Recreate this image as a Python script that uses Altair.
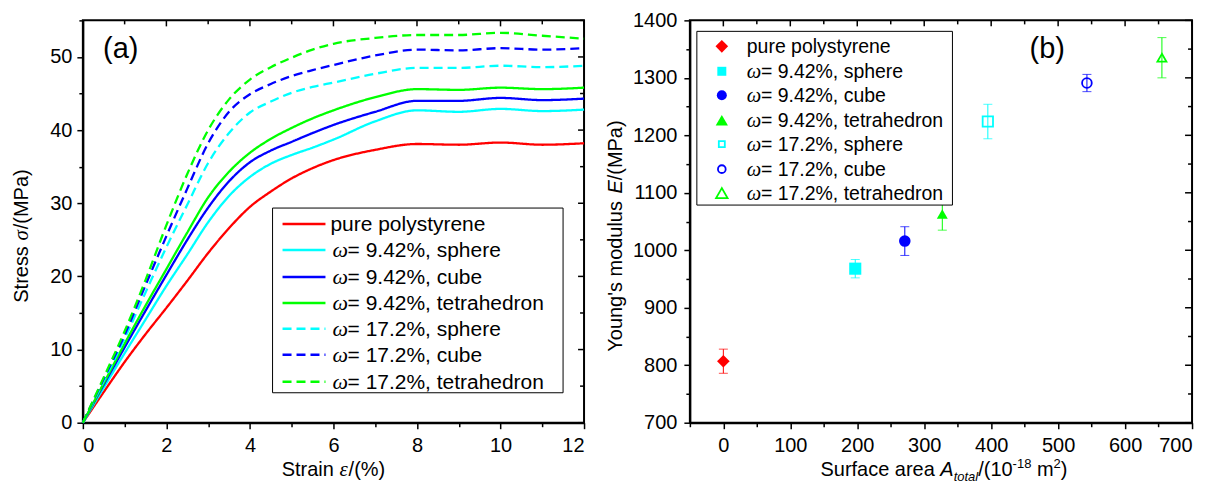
import altair as alt
import pandas as pd

# ---------------- panel (a): stress-strain curves ----------------
strain = [0, 0.5, 1, 1.5, 2, 2.5, 3, 3.5, 4, 4.5, 5, 5.5, 6, 7, 8, 9, 10, 11, 12]
stress_pure = [0, 4.2, 8.3, 12.1, 15.7, 19.4, 23.2, 26.6, 29.5, 31.6, 33.4, 34.8, 35.9, 37.3, 38.1, 38.0, 38.3, 38.0, 38.2]
stress_942_sphere = [0, 4.8, 9.5, 14.1, 18.7, 23.0, 27.4, 31.0, 33.6, 35.4, 36.6, 37.6, 38.7, 41.2, 42.7, 42.5, 42.9, 42.6, 42.8]
stress_942_cube = [0, 5.2, 10.3, 15.3, 20.2, 25.0, 29.4, 33.0, 35.6, 37.2, 38.4, 39.6, 40.7, 42.5, 44.0, 44.0, 44.4, 44.1, 44.3]
stress_942_tetra = [0, 5.4, 10.8, 16.0, 21.0, 26.0, 30.8, 34.3, 36.9, 38.8, 40.3, 41.6, 42.7, 44.5, 45.6, 45.5, 45.8, 45.6, 45.8]
stress_172_sphere = [0, 5.7, 11.5, 17.8, 24.0, 29.8, 35.5, 39.6, 42.4, 43.9, 45.1, 45.9, 46.5, 47.7, 48.5, 48.5, 48.8, 48.6, 48.8]
stress_172_cube = [0, 6.0, 12.0, 18.8, 25.5, 32.0, 38.2, 42.5, 44.9, 46.3, 47.4, 48.2, 48.9, 50.2, 51.0, 50.9, 51.2, 51.0, 51.2]
stress_172_tetra = [0, 6.2, 12.5, 19.5, 27.0, 34.0, 40.0, 44.2, 46.9, 48.6, 49.9, 51.0, 51.8, 52.6, 53.0, 53.0, 53.3, 52.9, 52.5]

series_labels = ["pure polystyrene", "ω= 9.42%, sphere", "ω= 9.42%, cube", "ω= 9.42%, tetrahedron",
                 "ω= 17.2%, sphere", "ω= 17.2%, cube", "ω= 17.2%, tetrahedron"]
legend_prefix = ["", "ω", "ω", "ω", "ω", "ω", "ω"]
legend_rest = ["pure polystyrene", "= 9.42%, sphere", "= 9.42%, cube", "= 9.42%, tetrahedron",
               "= 17.2%, sphere", "= 17.2%, cube", "= 17.2%, tetrahedron"]

# ---------------- panel (b): Young's modulus ----------------
surface_area = [0, 197, 271, 327, 395, 543, 655]
modulus = [807, 968, 1016, 1063, 1224, 1291, 1335]
modulus_err = [21, 16, 25, 28, 30, 15, 35]
marker_filled = [True, True, True, True, False, False, False]

# tick values
xa_ticks = list(range(0, 13))
ya_ticks = list(range(0, 56, 5))
xb_ticks = list(range(-50, 701, 50))
yb_ticks = list(range(700, 1401, 50))

# ---------------- styles ----------------
colors = ["#FF0000", "#00FFFF", "#0000FF", "#00FF00", "#00FFFF", "#0000FF", "#00FF00"]
dashes = [[1, 0], [1, 0], [1, 0], [1, 0], [9, 5], [9, 5], [9, 5]]
shapes = ["diamond", "square", "circle", "triangle-up", "square", "circle", "triangle-up"]
marker_sizes = [160, 81, 100, 150, 36, 60, 132]
SANS = "Liberation Sans"
SERIF = "Liberation Serif"
WA, HA = 502, 403
WB, HB = 503, 403

W = {' ': 278, 'S': 667, 't': 278, 'r': 333, 'a': 556, 'i': 222, 'n': 556, '/': 278, '(': 333, ')': 333,
     '%': 889, 'M': 833, 'P': 667, 'e': 556, 's': 500, 'Y': 667, 'o': 556, 'u': 556, 'g': 556, "'": 191,
     'm': 833, 'd': 556, 'l': 222, 'f': 278, 'c': 500, 'A': 667, 'E': 667, '-': 333, '.': 278, ',': 278,
     '=': 584, 'p': 556, 'y': 500, 'h': 556, 'b': 556, 'ε': 440, 'σ': 540, 'ω': 667}


def tw(s, size):
    return sum(W.get(c, 556) for c in s) * size / 1000.0


ONE = alt.Data(values=[{}])


def txt(text, x, y, size, font=SANS, style="normal", angle=0, align="left"):
    kw = dict(text=text, font=font, fontSize=size, fontStyle=style, align=align,
              baseline="alphabetic", color="black")
    if angle:
        kw["angle"] = angle
    return alt.Chart(ONE).mark_text(**kw).encode(x=alt.value(x), y=alt.value(y))


def anchor(x, y):
    # invisible 1px rule that pins the page bounds
    return alt.Chart(ONE).mark_rule(strokeOpacity=0, strokeWidth=0.1).encode(
        x=alt.value(x), y=alt.value(y), y2=alt.value(y + 0.5))


def hpieces(pieces, cx, yb):
    total = sum(tw(p[0], p[2]) for p in pieces)
    x = cx - total / 2
    out = []
    for text, font, size, style, dy in pieces:
        lead = len(text) - len(text.lstrip(" "))
        out.append(txt(text.strip(" "), x + tw(" " * lead, size), yb + dy, size, font, style))
        x += tw(text, size)
    return out


def vpieces(pieces, xb, cy):
    total = sum(tw(p[0], p[2]) for p in pieces)
    y = cy + total / 2
    out = []
    for text, font, size, style in pieces:
        out.append(txt(text.strip(" "), xb, y, size, font, style, angle=270))
        y -= tw(text, size)
    return out


def major_minor(step):
    return {"condition": {"test": f"datum.value % {step} === 0", "value": 6}, "value": 4}


# ---------------- panel (a) ----------------
rows = []
for lab, vals in zip(series_labels, [stress_pure, stress_942_sphere, stress_942_cube, stress_942_tetra,
                                     stress_172_sphere, stress_172_cube, stress_172_tetra]):
    for s, v in zip(strain, vals):
        rows.append({"series": lab, "strain": s, "stress": v})
df_a = pd.DataFrame(rows)

xa_scale = alt.Scale(domain=[0, 12], nice=False, zero=False)
ya_scale = alt.Scale(domain=[0, 55], nice=False, zero=False)
xa_axis = alt.Axis(values=xa_ticks, labelExpr="datum.value % 2 === 0 ? datum.label : ''",
                   tickSize=major_minor(2), title=None, labelPadding=7, grid=False)
ya_axis = alt.Axis(values=ya_ticks, labelExpr="datum.value % 10 === 0 ? datum.label : ''",
                   tickSize=major_minor(10), title=None, labelPadding=5, grid=False)

curves = alt.Chart(df_a).mark_line(strokeWidth=2.3, interpolate="monotone").encode(
    x=alt.X("strain:Q", scale=xa_scale, axis=xa_axis),
    y=alt.Y("stress:Q", scale=ya_scale, axis=ya_axis),
    color=alt.Color("series:N", scale=alt.Scale(domain=series_labels, range=colors), legend=None),
    strokeDash=alt.StrokeDash("series:N", scale=alt.Scale(domain=series_labels, range=dashes), legend=None),
)

top_a_major = alt.Chart(pd.DataFrame({"strain": [v for v in xa_ticks if v % 2 == 0]})).mark_rule(
    color="black", strokeWidth=1.5).encode(x=alt.X("strain:Q", scale=xa_scale, axis=xa_axis),
                                           y=alt.value(0), y2=alt.value(6))
top_a_minor = alt.Chart(pd.DataFrame({"strain": [v for v in xa_ticks if v % 2 == 1]})).mark_rule(
    color="black", strokeWidth=1.5).encode(x=alt.X("strain:Q", scale=xa_scale, axis=xa_axis),
                                           y=alt.value(0), y2=alt.value(4))
right_a_major = alt.Chart(pd.DataFrame({"stress": [v for v in ya_ticks if v % 10 == 0]})).mark_rule(
    color="black", strokeWidth=1.5).encode(y=alt.Y("stress:Q", scale=ya_scale, axis=ya_axis),
                                           x=alt.value(WA), x2=alt.value(WA - 6))
right_a_minor = alt.Chart(pd.DataFrame({"stress": [v for v in ya_ticks if v % 10 == 5]})).mark_rule(
    color="black", strokeWidth=1.5).encode(y=alt.Y("stress:Q", scale=ya_scale, axis=ya_axis),
                                           x=alt.value(WA), x2=alt.value(WA - 4))

layers_a = [curves, top_a_major, top_a_minor, right_a_major, right_a_minor]

# legend (a)
layers_a.append(alt.Chart(ONE).mark_rect(fill="white", stroke="black", strokeWidth=1).encode(
    x=alt.value(190), x2=alt.value(481), y=alt.value(188), y2=alt.value(373)))
leg_a_rows = [204, 230, 257, 283, 309, 335, 362]
for i in range(7):
    yc = leg_a_rows[i]
    layers_a.append(alt.Chart(ONE).mark_rule(color=colors[i], strokeWidth=2.5, strokeDash=dashes[i]).encode(
        x=alt.value(200), x2=alt.value(243), y=alt.value(yc)))
    if legend_prefix[i]:
        layers_a.append(txt(legend_prefix[i], 250, yc + 7, 22, SERIF, "italic"))
        layers_a.append(txt(legend_rest[i], 250 + tw("ω", 22) + 0.5, yc + 7, 21))
    else:
        layers_a.append(txt(legend_rest[i], 248, yc + 7, 21))

layers_a.append(txt("(a)", 38, 38, 29, align="center"))
layers_a += hpieces([("Strain ", SANS, 20, "normal", 0), ("ε", SERIF, 21, "italic", 0),
                     ("/(%)", SANS, 20, "normal", 0)], WA / 2, 456)
layers_a += vpieces([("Stress ", SANS, 20, "normal"), ("σ", SERIF, 21, "italic"),
                     ("/(MPa)", SANS, 20, "normal")], -55, 216)
layers_a.append(anchor(-82, -19))

left = alt.layer(*layers_a).properties(width=WA, height=HA)

# ---------------- panel (b) ----------------
df_b = pd.DataFrame({"series": series_labels, "area": surface_area, "modulus": modulus,
                     "lo": [m - e for m, e in zip(modulus, modulus_err)],
                     "hi": [m + e for m, e in zip(modulus, modulus_err)],
                     "filled": marker_filled})

xb_scale = alt.Scale(domain=[-50, 700], nice=False, zero=False)
yb_scale = alt.Scale(domain=[700, 1400], nice=False, zero=False)
xb_axis = alt.Axis(values=xb_ticks, labelExpr="datum.value % 100 === 0 ? datum.label : ''",
                   tickSize=major_minor(100), title=None, labelPadding=7, grid=False, format="d")
yb_axis = alt.Axis(values=yb_ticks, labelExpr="datum.value % 100 === 0 ? datum.label : ''",
                   tickSize=major_minor(100), title=None, labelPadding=7, grid=False, format="d")
col_b = alt.Color("series:N", scale=alt.Scale(domain=series_labels, range=colors), legend=None)

err_rule = alt.Chart(df_b).mark_rule(strokeWidth=1).encode(
    x=alt.X("area:Q", scale=xb_scale, axis=xb_axis),
    y=alt.Y("lo:Q", scale=yb_scale, axis=yb_axis), y2="hi:Q", color=col_b)
err_caps = alt.Chart(df_b).transform_fold(["lo", "hi"], as_=["end", "val"]).mark_tick(
    orient="horizontal", size=9, thickness=1).encode(
    x=alt.X("area:Q", scale=xb_scale, axis=xb_axis),
    y=alt.Y("val:Q", scale=yb_scale, axis=yb_axis), color=col_b)
shape_enc = alt.Shape("series:N", scale=alt.Scale(domain=series_labels, range=shapes), legend=None)
size_enc = alt.Size("series:N", scale=alt.Scale(domain=series_labels, range=marker_sizes), legend=None)
pts_filled = alt.Chart(df_b).transform_filter("datum.filled").mark_point(filled=True, opacity=1).encode(
    x=alt.X("area:Q", scale=xb_scale, axis=xb_axis),
    y=alt.Y("modulus:Q", scale=yb_scale, axis=yb_axis), color=col_b, shape=shape_enc, size=size_enc)
pts_open = alt.Chart(df_b).transform_filter("!datum.filled").mark_point(
    filled=False, opacity=1, strokeWidth=1.8).encode(
    x=alt.X("area:Q", scale=xb_scale, axis=xb_axis),
    y=alt.Y("modulus:Q", scale=yb_scale, axis=yb_axis), color=col_b, shape=shape_enc, size=size_enc)

top_b_major = alt.Chart(pd.DataFrame({"area": [v for v in xb_ticks if v % 100 == 0]})).mark_rule(
    color="black", strokeWidth=1.5).encode(x=alt.X("area:Q", scale=xb_scale, axis=xb_axis),
                                           y=alt.value(0), y2=alt.value(6))
top_b_minor = alt.Chart(pd.DataFrame({"area": [v for v in xb_ticks if v % 100 != 0]})).mark_rule(
    color="black", strokeWidth=1.5).encode(x=alt.X("area:Q", scale=xb_scale, axis=xb_axis),
                                           y=alt.value(0), y2=alt.value(4))
right_b_major = alt.Chart(pd.DataFrame({"modulus": [v for v in yb_ticks if v % 100 == 0]})).mark_rule(
    color="black", strokeWidth=1.5).encode(y=alt.Y("modulus:Q", scale=yb_scale, axis=yb_axis),
                                           x=alt.value(WB), x2=alt.value(WB - 7))
right_b_minor = alt.Chart(pd.DataFrame({"modulus": [v for v in yb_ticks if v % 100 != 0]})).mark_rule(
    color="black", strokeWidth=1.5).encode(y=alt.Y("modulus:Q", scale=yb_scale, axis=yb_axis),
                                           x=alt.value(WB), x2=alt.value(WB - 4))

layers_b = [err_rule, err_caps, pts_filled, pts_open, top_b_major, top_b_minor, right_b_major, right_b_minor]

# legend (b)
layers_b.append(alt.Chart(ONE).mark_rect(fill="white", stroke="black", strokeWidth=1).encode(
    x=alt.value(7), x2=alt.value(263), y=alt.value(11), y2=alt.value(185)))
leg_b_rows = [26, 51, 75, 100, 124, 149, 173]
for i in range(7):
    yc = leg_b_rows[i]
    layers_b.append(alt.Chart(ONE).mark_point(
        shape=shapes[i], filled=marker_filled[i], size=marker_sizes[i], color=colors[i], opacity=1,
        strokeWidth=1.8).encode(x=alt.value(32), y=alt.value(yc)))
    if legend_prefix[i]:
        layers_b.append(txt(legend_prefix[i], 57, yc + 6.5, 20.5, SERIF, "italic"))
        layers_b.append(txt(legend_rest[i], 57 + tw("ω", 20.5) + 0.5, yc + 6.5, 19.5))
    else:
        layers_b.append(txt(legend_rest[i], 57, yc + 6.5, 19.5))

layers_b.append(txt("(b)", 358, 38, 29, align="center"))
layers_b += hpieces([("Surface area ", SANS, 20, "normal", 0), ("A", SANS, 20, "italic", 0),
                     ("total", SANS, 13, "italic", 5), ("/(10", SANS, 20, "normal", 0),
                     ("-18", SANS, 13, "normal", -8), (" m", SANS, 20, "normal", 0),
                     ("2", SANS, 13, "normal", -8), (")", SANS, 20, "normal", 0)], WB / 2 + 3, 456)
layers_b += vpieces([("Young's modulus ", SANS, 20, "normal"), ("E", SANS, 20, "italic"),
                     ("/(MPa)", SANS, 20, "normal")], -68, 216)
layers_b.append(anchor(WB + 27.5, HB + 66.5))

right = alt.layer(*layers_b).properties(width=WB, height=HB)

chart = alt.hconcat(left, right, spacing=106, bounds="flush").properties(
    padding=0,
    background="white",
).configure_view(stroke="black", strokeWidth=2).configure_axis(
    domainColor="black", domainWidth=2, tickColor="black", tickWidth=1.5,
    labelFont=SANS, labelFontSize=20, labelColor="black",
)

chart.save("out.html", embed_options={"renderer": "svg", "actions": False})
